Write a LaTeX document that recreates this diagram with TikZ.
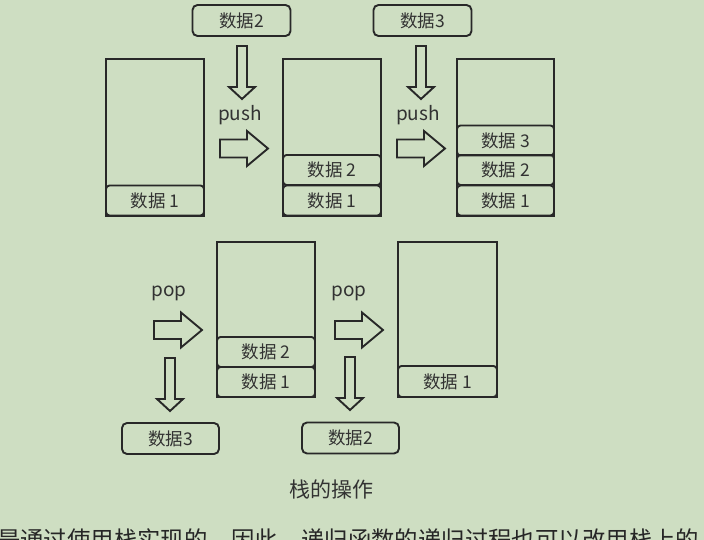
\documentclass[tikz,border=0pt]{standalone}
\usepackage{fontspec}
\setmainfont{Noto Sans CJK SC}
\newfontfamily\cjk{Noto Sans CJK SC}
\definecolor{bg}{RGB}{206,222,194}
\definecolor{ln}{RGB}{40,40,40}
\definecolor{tx}{RGB}{50,50,50}
\tikzset{
  stk/.style={draw=ln, line width=1.9pt, rectangle, inner sep=0pt},
  cell/.style={draw=ln, line width=1.9pt, rectangle, rounded corners=3.5pt, inner sep=0pt,
    minimum width=98pt, minimum height=30pt, text=tx, font=\fontsize{17.5}{17.5}\selectfont},
  dbox/.style={draw=ln, line width=1.9pt, rectangle, rounded corners=5pt, inner sep=0pt,
    minimum width=98pt, minimum height=31pt, text=tx, font=\fontsize{17.5}{17.5}\selectfont},
  oplabel/.style={text=tx, inner sep=0pt, font=\fontsize{19}{19}\selectfont},
  blk/.style={draw=ln, line width=1.9pt, line join=miter},
  darr/.pic={\draw[blk] (-5,0) -- (5,0) -- (5,41) -- (13,41) -- (0,53) -- (-13,41) -- (-5,41) -- cycle;},
  rarr/.pic={\draw[blk] (0,-9) -- (27,-9) -- (27,-17.5) -- (48,0) -- (27,17.5) -- (27,9) -- (0,9) -- cycle;}
}
\begin{document}
\begin{tikzpicture}[x=1pt,y=-1pt]
\fill[bg] (0,0) rectangle (704,540);
\useasboundingbox (0,0) rectangle (704,540);

% ---- top row ----
% stack 1
\node[stk, minimum width=98pt, minimum height=157pt] (s1) at (155,137.5) {};
\node[cell] (s1c1) at (155,200.5) {数据 1};
% push 1
\node[dbox] (d2top) at (241.5,20.5) {数据2};
\pic at (242,46) {darr};
\node[oplabel] (push1) at (240,115) {push};
\pic at (220,148.5) {rarr};
% stack 2
\node[stk, minimum width=98pt, minimum height=157pt] (s2) at (332,137.5) {};
\node[cell] (s2c2) at (332,170) {数据 2};
\node[cell] (s2c1) at (332,200.5) {数据 1};
% push 2
\node[dbox] (d3top) at (422.5,20.5) {数据3};
\pic at (421,46) {darr};
\node[oplabel] (push2) at (418,115) {push};
\pic at (397,148.5) {rarr};
% stack 3
\node[stk, minimum width=97pt, minimum height=157pt] (s3) at (505.5,137.5) {};
\node[cell, minimum width=97pt] (s3c3) at (505.5,140.5) {数据 3};
\node[cell, minimum width=97pt] (s3c2) at (505.5,170) {数据 2};
\node[cell, minimum width=97pt] (s3c1) at (505.5,200.5) {数据 1};

% ---- bottom row ----
% pop 1
\node[oplabel] (pop1) at (169,293) {pop};
\pic at (154,330) {rarr};
\pic at (170,358) {darr};
\node[dbox, minimum width=97pt] (d3bot) at (170.5,438.5) {数据3};
% stack 4
\node[stk, minimum width=98pt, minimum height=155pt] (s4) at (266,319.5) {};
\node[cell] (s4c2) at (266,352) {数据 2};
\node[cell] (s4c1) at (266,382) {数据 1};
% pop 2
\node[oplabel] (pop2) at (349,293) {pop};
\pic at (335,330) {rarr};
\pic at (350,357) {darr};
\node[dbox, minimum width=97pt] (d2bot) at (350.5,438) {数据2};
% stack 5
\node[stk, minimum width=99pt, minimum height=155pt] (s5) at (447.5,319.5) {};
\node[cell, minimum width=99pt, minimum height=31pt] (s5c1) at (447.5,381.5) {数据 1};

% caption
\node[text=tx, inner sep=0pt, font=\fontsize{21}{21}\selectfont] (cap) at (331,489) {栈的操作};

% cut-off body text (cut at the lower edge, as in the reference)
\begin{scope}
\clip (0,0) rectangle (704,540);
\node[anchor=base west, inner sep=0pt, text=black!85, font=\fontsize{23.4}{23.4}\selectfont] (body) at (-3,548) {是通过使用栈实现的，因此，递归函数的递归过程也可以改用栈上的};
\end{scope}
\end{tikzpicture}
\end{document}
